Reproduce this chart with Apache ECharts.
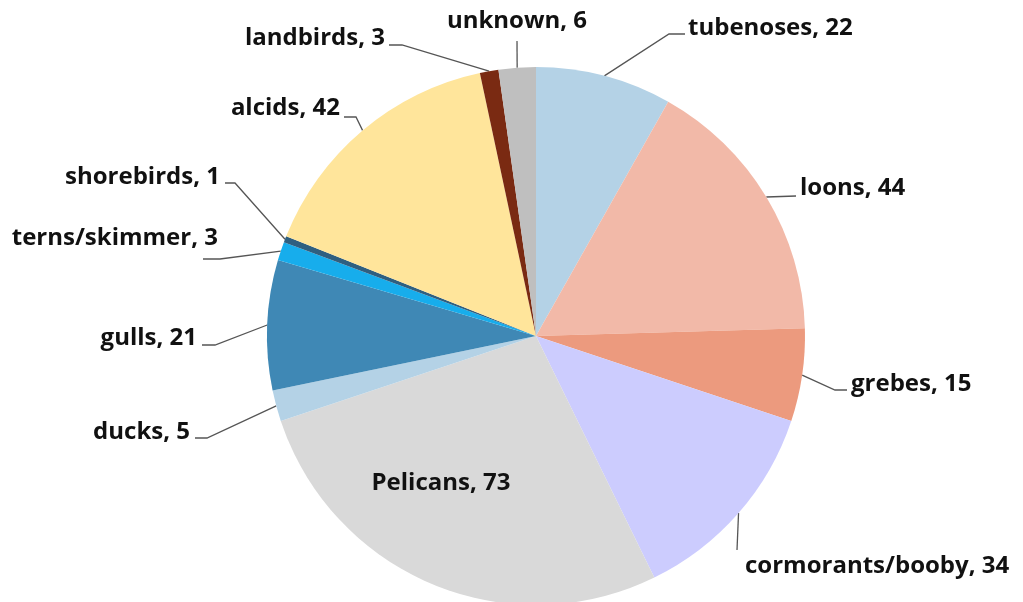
<!DOCTYPE html>
<html>
<head>
<meta charset="utf-8">
<script src="https://cdn.jsdelivr.net/npm/echarts@6/dist/echarts.min.js"></script>
<style>
  html, body { margin: 0; padding: 0; background: #fff; }
  #chart { width: 1023px; height: 602px; }
</style>
</head>
<body>
<div id="chart"></div>
<script>
// data, clockwise from 12 o'clock
const birdGroups = ['tubenoses', 'loons', 'grebes', 'cormorants/booby', 'Pelicans', 'ducks',
  'gulls', 'terns/skimmer', 'shorebirds', 'alcids', 'landbirds', 'unknown'];
const birdCounts = [22, 44, 15, 34, 73, 5, 21, 3, 1, 42, 3, 6];
const sliceColors = ['#b4d2e6', '#f2b9a8', '#ec9a7e', '#ccccfe', '#d9d9d9', '#b4d2e6',
  '#3f88b5', '#17adec', '#2f5f80', '#ffe59b', '#7a2a12', '#bfbfbf'];

// pie geometry
const cx = 536, cy = 336, R = 269;

// label placement: [x, y, align, line end dx, line end dy, hook]
const labelPlace = [
  [688, 28, 'left', -3, 6, -16],
  [800, 188, 'left', -4, 8, 0],
  [851, 384, 'left', -4, 6, -12],
  [745, 566, 'left', -8, -16, 0],
  [441, 483, 'center', 0, 0, 0],
  [190, 432, 'right', 5, 6, 12],
  [197, 338, 'right', 5, 7, 13],
  [218, 238, 'right', -15, 21, 17],
  [220, 177, 'right', 5, 6, 10],
  [340, 108, 'right', 4, 9, 12],
  [385, 38, 'right', 4, 7, 13],
  [517, 21, 'center', 0, 20, 0]
];

const total = birdCounts.reduce((a, b) => a + b, 0);
const midAngles = [];
let cum = 0;
birdCounts.forEach(v => {
  midAngles.push((cum + v / 2) / total * Math.PI * 2);
  cum += v;
});

const chart = echarts.init(document.getElementById('chart'));
chart.setOption({
  animation: false,
  series: [{
    type: 'pie',
    center: [cx, cy],
    radius: R,
    startAngle: 90,
    clockwise: true,
    avoidLabelOverlap: false,
    data: birdGroups.map((name, i) => {
      const item = { name: name, value: birdCounts[i], itemStyle: { color: sliceColors[i] } };
      if (name === 'Pelicans') {
        item.label = { position: 'inside' };
        item.labelLine = { show: false };
      }
      return item;
    }),
    label: {
      show: true,
      position: 'outside',
      formatter: '{b}, {c}',
      fontFamily: 'Open Sans',
      fontWeight: 'bold',
      fontSize: 24,
      color: '#111'
    },
    labelLine: {
      show: true,
      lineStyle: { color: '#555', width: 1.3 }
    },
    labelLayout: function (params) {
      const i = params.dataIndex;
      const p = labelPlace[i];
      const out = { x: p[0], y: p[1], align: p[2], verticalAlign: 'middle' };
      if (birdGroups[i] !== 'Pelicans') {
        const a = midAngles[i];
        const start = [cx + R * Math.sin(a), cy - R * Math.cos(a)];
        const end = [p[0] + p[3], p[1] + p[4]];
        const elbow = [end[0] + p[5], end[1]];
        out.labelLinePoints = [start, elbow, end];
      }
      return out;
    }
  }]
});
</script>
</body>
</html>
